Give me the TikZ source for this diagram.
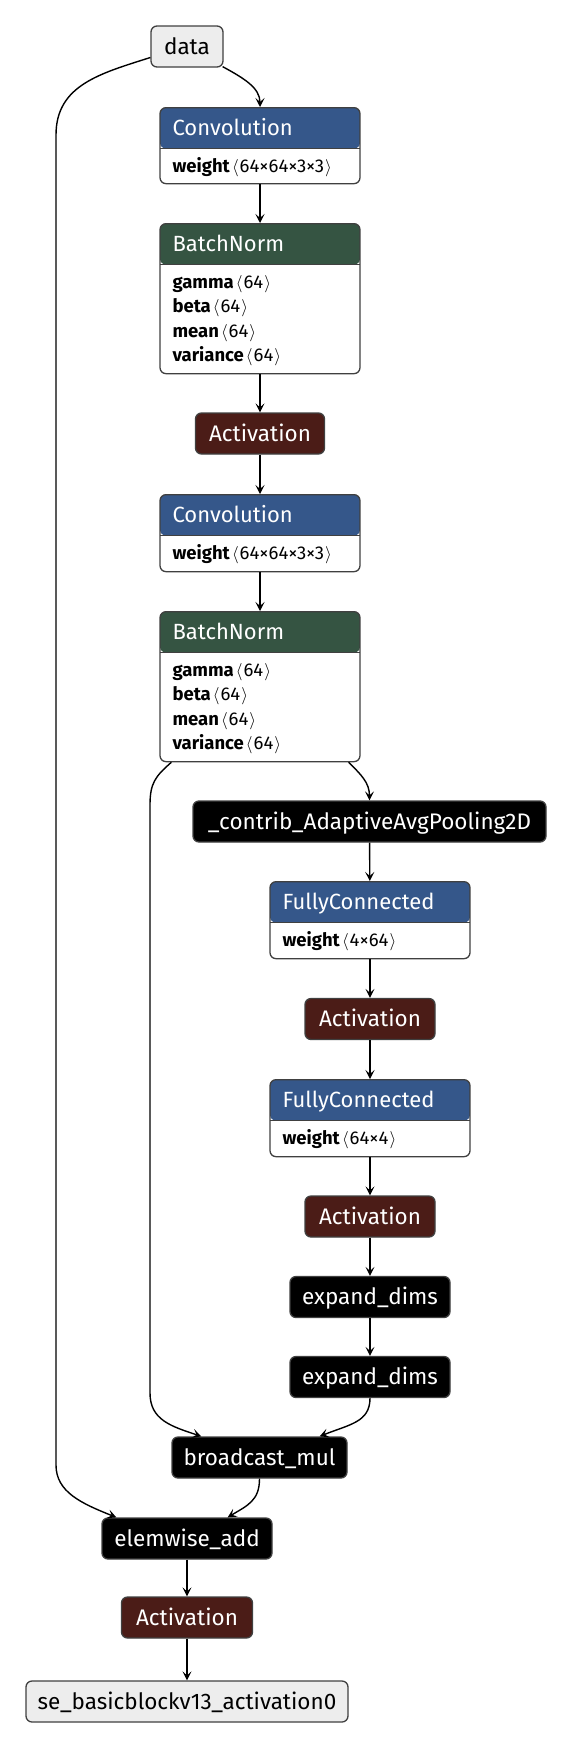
\documentclass[tikz,border=0pt]{standalone}
\usepackage{fontspec}
\setmainfont{Fira Sans}
\usetikzlibrary{arrows.meta}
\definecolor{convblue}{HTML}{35578A}
\definecolor{bngreen}{HTML}{355442}
\definecolor{actred}{HTML}{4B1C17}
\definecolor{iogray}{HTML}{EDEDED}
\definecolor{bordergray}{HTML}{404040}
\tikzset{
  nbase/.style={draw=bordergray, line width=1.3pt, rounded corners=6pt, inner sep=0pt},
  simple/.style={nbase, minimum height=41pt, text height=15pt, text depth=0pt,
     font=\fontsize{22.5}{26}\selectfont},
  io/.style={simple, fill=iogray, text=black},
  actn/.style={simple, fill=actred, text=white},
  blk/.style={simple, fill=black, text=white},
  cbox/.style 2 args={nbase, fill=white, minimum width=200pt, minimum height=#2, anchor=north,
     path picture={
       \fill[#1] (path picture bounding box.north west) rectangle ([yshift=-41pt]path picture bounding box.north east);
       \draw[bordergray, line width=1.3pt] ([yshift=-41pt]path picture bounding box.north west) -- ([yshift=-41pt]path picture bounding box.north east);
     }},
  hdr/.style={anchor=base west, inner sep=0pt, text=white, font=\fontsize{22}{26}\selectfont},
  prm/.style={anchor=base west, inner sep=0pt, text=black, font=\fontsize{18.5}{22}\selectfont},
  edge/.style={line width=1.4pt, -{Stealth[length=9pt,width=9pt,inset=4pt]}}
}
\newcommand\shp[1]{\kern2pt$\langle$\kern1pt#1\kern1pt$\rangle$}
\begin{document}
\begin{tikzpicture}[x=1pt,y=-1pt]
\useasboundingbox (0,0) rectangle (574,1748);
% simple nodes
\node[io, minimum width=72pt] (data) at (187,46.5) {data};
\node[cbox={convblue}{76pt}] (conv1) at (260,107) {};
\node[cbox={bngreen}{150pt}] (bn1) at (260,223) {};
\node[actn, minimum width=129pt] (act1) at (260,433.5) {Activation};
\node[cbox={convblue}{77pt}] (conv2) at (260,494) {};
\node[cbox={bngreen}{150pt}] (bn2) at (260,611) {};
\node[blk, minimum width=353pt] (pool) at (369.5,821.5) {\_contrib\_AdaptiveAvgPooling2D};
\node[cbox={convblue}{77pt}] (fc1) at (370,881) {};
\node[actn, minimum width=130pt] (act2) at (370,1019) {Activation};
\node[cbox={convblue}{77pt}] (fc2) at (370,1079) {};
\node[actn, minimum width=130pt] (act3) at (370,1216.5) {Activation};
\node[blk, minimum width=160pt] (exp1) at (370,1297) {expand\_dims};
\node[blk, minimum width=160pt] (exp2) at (370,1377) {expand\_dims};
\node[blk, minimum width=175pt] (bmul) at (259.5,1457.5) {broadcast\_mul};
\node[blk, minimum width=170pt] (eadd) at (187,1538.5) {elemwise\_add};
\node[actn, minimum width=131pt] (act4) at (187,1617.5) {Activation};
\node[io, minimum width=322pt] (out) at (187,1701.5) {se\_basicblockv13\_activation0};
% compound texts
\node[hdr] (conv1h) at ([xshift=13pt,yshift=-28pt]conv1.north west) {Convolution};
\node[prm] (conv1p) at ([xshift=13pt,yshift=-65pt]conv1.north west) {\textbf{weight}\shp{64×64×3×3}};
\node[hdr] (bn1h) at ([xshift=13pt,yshift=-28pt]bn1.north west) {BatchNorm};
\node[prm] (bn1p1) at ([xshift=13pt,yshift=-65pt]bn1.north west) {\textbf{gamma}\shp{64}};
\node[prm] (bn1p2) at ([xshift=13pt,yshift=-89.5pt]bn1.north west) {\textbf{beta}\shp{64}};
\node[prm] (bn1p3) at ([xshift=13pt,yshift=-114pt]bn1.north west) {\textbf{mean}\shp{64}};
\node[prm] (bn1p4) at ([xshift=13pt,yshift=-138.5pt]bn1.north west) {\textbf{variance}\shp{64}};
\node[hdr] (conv2h) at ([xshift=13pt,yshift=-28pt]conv2.north west) {Convolution};
\node[prm] (conv2p) at ([xshift=13pt,yshift=-65pt]conv2.north west) {\textbf{weight}\shp{64×64×3×3}};
\node[hdr] (bn2h) at ([xshift=13pt,yshift=-28pt]bn2.north west) {BatchNorm};
\node[prm] (bn2p1) at ([xshift=13pt,yshift=-65pt]bn2.north west) {\textbf{gamma}\shp{64}};
\node[prm] (bn2p2) at ([xshift=13pt,yshift=-89.5pt]bn2.north west) {\textbf{beta}\shp{64}};
\node[prm] (bn2p3) at ([xshift=13pt,yshift=-114pt]bn2.north west) {\textbf{mean}\shp{64}};
\node[prm] (bn2p4) at ([xshift=13pt,yshift=-138.5pt]bn2.north west) {\textbf{variance}\shp{64}};
\node[hdr] (fc1h) at ([xshift=13pt,yshift=-28pt]fc1.north west) {FullyConnected};
\node[prm] (fc1p) at ([xshift=13pt,yshift=-65pt]fc1.north west) {\textbf{weight}\shp{4×64}};
\node[hdr] (fc2h) at ([xshift=13pt,yshift=-28pt]fc2.north west) {FullyConnected};
\node[prm] (fc2p) at ([xshift=13pt,yshift=-65pt]fc2.north west) {\textbf{weight}\shp{64×4}};
% helper coordinates
\coordinate (la) at (56,135);
\coordinate (lb) at (56,1465);
\coordinate (ma) at (150,805);
\coordinate (mb) at (150,1393);
% straight edges
\draw[edge] (conv1) -- (bn1);
\draw[edge] (bn1) -- (act1);
\draw[edge] (act1) -- (conv2);
\draw[edge] (conv2) -- (bn2);
\draw[edge] (pool) -- (fc1);
\draw[edge] (fc1) -- (act2);
\draw[edge] (act2) -- (fc2);
\draw[edge] (fc2) -- (act3);
\draw[edge] (act3) -- (exp1);
\draw[edge] (exp1) -- (exp2);
\draw[edge] (eadd) -- (act4);
\draw[edge] (act4) -- (out);
% curved edges
\draw[edge] ([xshift=-1pt,yshift=1pt]data.south east) .. controls +(22,12) and +(0,-19) .. (conv1.north);
\draw[edge] ([yshift=-11pt]data.west) .. controls +(-50,16) and +(0,-50) .. (la) -- (lb)
   .. controls +(0,27) and +(-35,-14) .. ([xshift=15pt]eadd.north west);
\draw[edge] ([xshift=12pt]bn2.south west) .. controls +(-16,14) and +(0,-22) .. (ma) -- (mb)
   .. controls +(0,27) and +(-30,-10) .. ([xshift=30pt]bmul.north west);
\draw[edge] ([xshift=-12pt]bn2.south east) .. controls +(12,12) and +(0,-18) .. (pool.north);
\draw[edge] (exp2.south) .. controls +(0,24) and +(30,-12) .. ([xshift=-28pt]bmul.north east);
\draw[edge] (bmul.south) .. controls +(0,22) and +(20,-12) .. ([xshift=-45pt]eadd.north east);
\end{tikzpicture}
\end{document}
